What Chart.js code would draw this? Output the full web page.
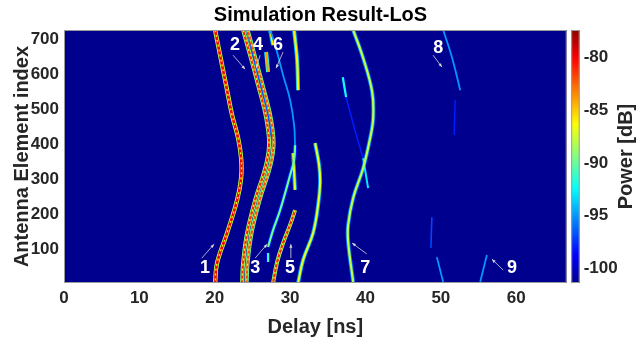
<!DOCTYPE html>
<html>
<head>
<meta charset="utf-8">
<script src="https://cdn.jsdelivr.net/npm/chart.js@4.4.1/dist/chart.umd.min.js"></script>
<style>
  html,body{margin:0;padding:0;background:#fff;}
</style>
</head>
<body>
<canvas id="simChart" width="641" height="342"></canvas>
<script>
// path traces: [delay ns, antenna element index]
const path1  = [[20.05,726],[20.71,654],[21.5,569],[22.3,483],[23.1,417],[23.5,360],[23.5,303],[22.97,240],[21.64,146],[20.31,60],[20.05,3]];
const path2a = [[23.76,726],[24.69,654],[25.75,569],[26.68,491],[27.08,440],[27.21,397],[26.95,354],[26.42,311],[25.36,240],[24.29,146],[23.76,60],[23.63,3]];
const path2b = [[24.36,726],[25.29,654],[26.35,569],[27.28,491],[27.68,440],[27.81,397],[27.55,354],[27.02,311],[25.96,240],[24.89,146],[24.36,60],[24.23,3]];
const path4  = [[24.29,726],[25.49,617],[26.42,540],[27.08,483],[27.61,411]];
const path6  = [[27.35,726],[28.01,683],[29.07,597],[30.0,526],[30.53,454],[30.66,397]];
const path3  = [[30.66,397],[30.53,354],[30.0,311],[28.67,211],[27.74,154],[27.08,106]];
const path3b = [[27.08,89],[27.08,63]];
const path5  = [[30.66,211],[30.0,169],[29.07,117],[28.28,63],[27.74,3]];
const path5t = [[30.4,374],[30.66,269]];
const pathR  = [[33.32,403],[33.85,340],[33.98,289],[33.72,226],[33.05,146],[31.73,69],[31.06,3]];
const arcTop = [[30.53,726],[30.93,640],[31.06,554]];
const segA   = [[26.82,663],[27.08,606]];
const segB   = [[27.35,726],[27.74,683]];
const path7  = [[38.37,726],[39.69,646],[40.89,549],[41.02,474],[40.62,417],[39.69,331],[38.37,246],[37.7,169],[37.7,120],[38.37,6]];
const path7a = [[36.99,591],[37.43,534]];
const path7b = [[37.43,534],[38.6,440],[39.69,360]];
const path7c = [[39.69,360],[40.35,274]];
const path8  = [[50.31,726],[51.5,646],[52.57,554]];
const path8b = [[51.9,526],[51.77,426]];
const path8c = [[48.81,191],[48.68,103]];
const path8d = [[49.47,77],[50.31,6]];
const path9  = [[56.11,83],[55.22,6]];

// peak power of each trace, dB
const powers = [-80,-81,-82,-96.5,-95,-90,-91,-81,-87,-87,-86,-84,-86,-88,-92,-98,-93,-95,-98,-97,-95,-95];
const traces = [path1,path2a,path2b,path4,path6,path3,path3b,path5,path5t,pathR,arcTop,segA,segB,path7,path7a,path7b,path7c,path8,path8b,path8c,path8d,path9];
const widths = [2.6,2.2,2.2,1.5,1.8,2.2,2.2,2.2,2.2,2.2,2.2,2.2,2.2,2.3,2.2,1.5,2,1.8,1.5,1.6,1.8,1.8];

const xTicks = [0,10,20,30,40,50,60];
const yTicks = [100,200,300,400,500,600,700];
const cbTicks = [-100,-95,-90,-85,-80];
const powerMin = -101.4, powerMax = -77.4;

// path numbers and their arrows
const annoLabels = ['1','2','3','4','5','6','7','8','9'];
const annoAt    = [[18.72,46],[22.7,683],[25.36,46],[25.75,683],[30.0,46],[28.41,683],[39.96,46],[49.65,674],[59.43,46]];
const arrowFrom = [[18.28,74],[22.43,654],[25.36,74],[26.02,654],[30.1,74],[29.07,663],[40.18,86],[48.98,654],[58.28,40]];
const arrowTo   = [[19.91,114],[24.03,614],[26.95,114],[25.49,617],[30.1,114],[28.14,617],[38.23,117],[50.14,620],[56.78,71]];

function jet(p) {
  let t = (p - powerMin) / (powerMax - powerMin);
  t = Math.max(0, Math.min(1, t));
  t = 1/64 + t * 62/64;
  const f = v => Math.round(255 * Math.max(0, Math.min(1, v)));
  return 'rgb(' + f(1.5 - Math.abs(4*t-3)) + ',' + f(1.5 - Math.abs(4*t-2)) + ',' + f(1.5 - Math.abs(4*t-1)) + ')';
}

const datasets = [];
traces.forEach((pts, i) => {
  const data = pts.map(p => ({x: p[0], y: p[1]}));
  const base = {data, showLine: true, pointRadius: 0, tension: 0.4, clip: 0, fill: false};
  datasets.push(Object.assign({}, base, {borderColor: jet(powers[i] - 8), borderWidth: widths[i] + 1.8, order: 3}));
  datasets.push(Object.assign({}, base, {borderColor: jet(powers[i]), borderWidth: widths[i], order: 2}));
  // strong paths show a red/yellow fringe pattern
  if (powers[i] >= -82) {
    datasets.push(Object.assign({}, base, {borderColor: jet(powers[i] - 6), borderWidth: 1.3, borderDash: [2, 3], order: 1}));
  }
});

Chart.defaults.font.family = "'Liberation Sans', Arial, sans-serif";
Chart.defaults.font.weight = 'bold';

const plotBg = {
  id: 'plotBg',
  beforeDatasetsDraw(chart) {
    const {ctx, chartArea: a} = chart;
    ctx.save();
    ctx.fillStyle = jet(powerMin);
    ctx.fillRect(a.left, a.top, a.right - a.left, a.bottom - a.top);
    ctx.restore();
  },
  afterDatasetsDraw(chart) {
    const {ctx, chartArea: a, scales} = chart;
    const xs = scales.x, ys = scales.y, cs = scales.c;
    ctx.save();
    // arrows
    ctx.strokeStyle = '#d8d8d8';
    ctx.fillStyle = '#d8d8d8';
    ctx.lineWidth = 0.8;
    arrowFrom.forEach((f, i) => {
      const x0 = xs.getPixelForValue(f[0]), y0 = ys.getPixelForValue(f[1]);
      const x1 = xs.getPixelForValue(arrowTo[i][0]), y1 = ys.getPixelForValue(arrowTo[i][1]);
      const ang = Math.atan2(y1 - y0, x1 - x0);
      ctx.beginPath(); ctx.moveTo(x0, y0); ctx.lineTo(x1, y1); ctx.stroke();
      ctx.beginPath();
      ctx.moveTo(x1, y1);
      ctx.lineTo(x1 - 4*Math.cos(ang - 0.4), y1 - 4*Math.sin(ang - 0.4));
      ctx.lineTo(x1 - 4*Math.cos(ang + 0.4), y1 - 4*Math.sin(ang + 0.4));
      ctx.closePath(); ctx.fill();
    });
    // labels
    ctx.fillStyle = '#fff';
    ctx.font = "bold 18px 'Liberation Sans', Arial, sans-serif";
    ctx.textAlign = 'center';
    ctx.textBaseline = 'middle';
    annoLabels.forEach((t, i) => {
      ctx.fillText(t, xs.getPixelForValue(annoAt[i][0]), ys.getPixelForValue(annoAt[i][1]));
    });
    // plot frame
    ctx.strokeStyle = '#9a9a9a';
    ctx.lineWidth = 1;
    ctx.strokeRect(a.left + 0.5, a.top + 0.5, a.right - a.left - 1, a.bottom - a.top - 1);
    // colour bar
    const cx = a.right + 4.5, cw = 8.5;
    const top = cs.getPixelForValue(powerMax), bot = cs.getPixelForValue(powerMin);
    const g = ctx.createLinearGradient(0, bot, 0, top);
    for (let k = 0; k <= 40; k++) {
      g.addColorStop(k / 40, jet(powerMin + (powerMax - powerMin) * k / 40));
    }
    ctx.fillStyle = g;
    ctx.fillRect(cx, top, cw, bot - top);
    ctx.strokeStyle = '#9a9a9a';
    ctx.strokeRect(cx + 0.5, top + 0.5, cw - 1, bot - top - 1);
    // colour bar label
    ctx.fillStyle = '#262626';
    ctx.font = "bold 20px 'Liberation Sans', Arial, sans-serif";
    ctx.translate(626, (a.top + a.bottom) / 2);
    ctx.rotate(-Math.PI / 2);
    ctx.fillText('Power [dB]', 0, 0);
    ctx.restore();
  }
};

new Chart(document.getElementById('simChart'), {
  type: 'scatter',
  data: {datasets},
  options: {
    responsive: false,
    animation: false,
    events: [],
    layout: {padding: 0},
    plugins: {
      legend: {display: false},
      tooltip: {enabled: false},
      title: {
        display: true,
        text: 'Simulation Result-LoS',
        color: '#000',
        font: {size: 20, weight: 'bold'},
        padding: {top: 3, bottom: 3}
      }
    },
    scales: {
      x: {
        type: 'linear', position: 'bottom', min: 0, max: 66.7,
        grid: {display: false, drawTicks: false}, border: {display: false},
        afterBuildTicks: s => { s.ticks = xTicks.map(v => ({value: v})); },
        ticks: {color: '#262626', font: {size: 17, weight: 'bold'}, padding: 5, maxRotation: 0},
        title: {display: true, text: 'Delay [ns]', color: '#262626', font: {size: 20, weight: 'bold'}, padding: {top: 0, bottom: 3}},
        afterFit: s => { s.height = 59; }
      },
      y: {
        type: 'linear', position: 'left', min: 3, max: 726,
        grid: {display: false, drawTicks: false}, border: {display: false},
        afterBuildTicks: s => { s.ticks = yTicks.map(v => ({value: v})); },
        ticks: {color: '#262626', font: {size: 17, weight: 'bold'}, padding: 5},
        title: {display: true, text: 'Antenna Element index', color: '#262626', font: {size: 20, weight: 'bold'}, padding: {top: 10, bottom: 0}},
        afterFit: s => { s.width = 64; }
      },
      c: {
        type: 'linear', position: 'right', min: powerMin, max: powerMax,
        grid: {display: false, drawTicks: false}, border: {display: false},
        afterBuildTicks: s => { s.ticks = cbTicks.map(v => ({value: v})); },
        ticks: {color: '#262626', font: {size: 17, weight: 'bold'}, padding: 17},
        afterFit: s => { s.width = 74.3; }
      }
    }
  },
  plugins: [plotBg]
});
</script>
</body>
</html>
